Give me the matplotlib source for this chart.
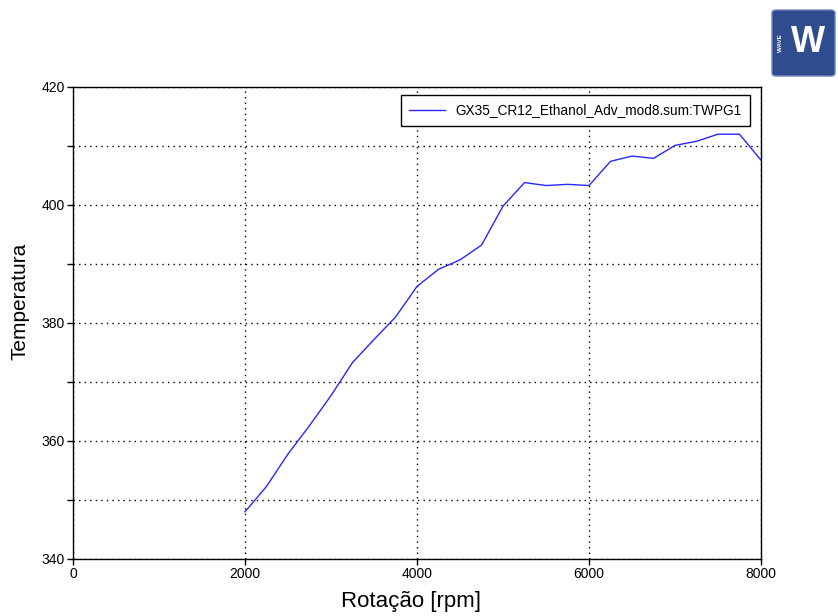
import matplotlib
matplotlib.use("Agg")
import matplotlib.pyplot as plt
from matplotlib.patches import FancyBboxPatch
from matplotlib.ticker import MultipleLocator

plt.rcParams['font.family'] = ['Liberation Sans', 'DejaVu Sans']

rpm = [2000, 2250, 2500, 2750, 3000, 3250, 3500, 3750, 4000, 4250, 4500, 4750,
       5000, 5250, 5500, 5750, 6000, 6250, 6500, 6750, 7000, 7250, 7500, 7750, 8000]
temp = [348.0, 352.3, 357.8, 362.6, 367.7, 373.3, 377.2, 381.0, 386.2, 389.1, 390.7, 393.2,
        399.8, 403.8, 403.3, 403.5, 403.3, 407.4, 408.3, 407.9, 410.1, 410.8, 412.0, 412.0, 407.6]
series_label = "GX35_CR12_Ethanol_Adv_mod8.sum:TWPG1"
xlabel = "Rotação [rpm]"
ylabel = "Temperatura"

fig = plt.figure(figsize=(8.38, 6.16), dpi=100)
ax = fig.add_axes([73/838, 1-559/616, (761-73)/838, (559-87)/616])

ax.plot(rpm, temp, color='#2828ff', lw=1.0, label=series_label)
ax.set_xlim(0, 8000)
ax.set_ylim(340, 420)
ax.xaxis.set_major_locator(MultipleLocator(2000))
ax.yaxis.set_major_locator(MultipleLocator(20))
ax.yaxis.set_minor_locator(MultipleLocator(10))
ax.tick_params(axis='both', which='major', direction='out', length=4, width=1,
               labelsize=10, pad=2, top=False, right=False)
ax.tick_params(axis='y', which='minor', direction='out', length=4, width=1, right=False)
ax.grid(True, which='both', axis='y', linestyle=(0, (1, 3)), color='black', lw=1)
ax.grid(True, which='major', axis='x', linestyle=(0, (1, 3)), color='black', lw=1)
for s in ax.spines.values():
    s.set_linewidth(1.0)
ax.set_xlabel(xlabel, fontsize=16)
ax.xaxis.set_label_coords(0.491, -0.068)
ax.set_ylabel(ylabel, fontsize=15)
ax.yaxis.set_label_coords(-0.063, 0.545)

leg = ax.legend(loc='upper right', bbox_to_anchor=(0.9935, 0.997), fontsize=9.8,
                frameon=True, fancybox=False, edgecolor='black', framealpha=1,
                handlelength=2.6, borderpad=0.6, handletextpad=0.8)
leg.get_frame().set_linewidth(1.0)

# logo
logo = FancyBboxPatch((772/838, 1-76/616), 63/838, 66/616, boxstyle="round,pad=0,rounding_size=0.005",
                      transform=fig.transFigure, facecolor='#2f4c8f', edgecolor='#6f84b8', lw=1)
fig.patches.append(logo)
fig.text(780/838, 1-43/616, "WAVE", rotation=90, color='white', fontsize=4.5,
         fontweight='bold', ha='center', va='center')
fig.text(808/838, 1-43/616, "W", color='white', fontsize=26, fontweight='bold',
         ha='center', va='center')

fig.savefig("out.png", dpi=100)
